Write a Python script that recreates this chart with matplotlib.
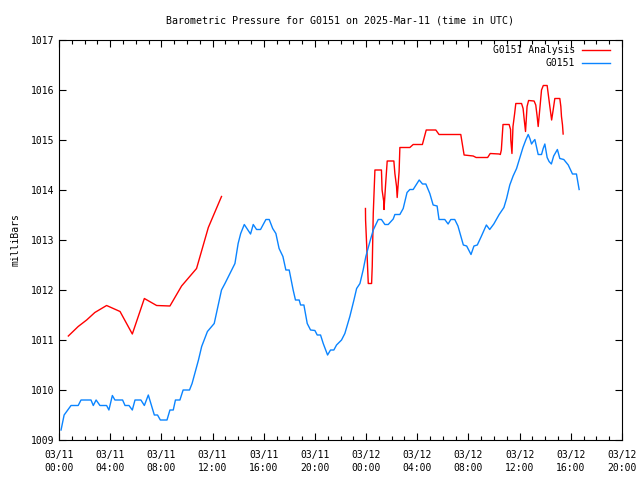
import matplotlib
matplotlib.use('Agg')
import matplotlib.pyplot as plt
from matplotlib.ticker import MultipleLocator

# hours since 2025-03-11 00:00 UTC
analysis_hours = [0.73, 1.5, 2.16, 2.8, 3.72, 4.77, 5.73, 6.67, 7.63, 8.67, 9.58,
                  10.75, 11.67, 12.7]
analysis_mb = [1011.08, 1011.27, 1011.4, 1011.55, 1011.69, 1011.57, 1011.12, 1011.83,
               1011.69, 1011.68, 1012.08, 1012.43, 1013.25, 1013.87]

analysis2_hours = [23.95, 23.96, 24.05, 24.17, 24.43, 24.48, 24.56, 24.69, 25.2, 25.25,
                   25.38, 25.4, 25.53, 25.65, 26.17, 26.25, 26.38, 26.43, 26.58, 26.64,
                   27.42, 27.68, 28.4, 28.7, 29.45, 29.7, 31.4, 31.66, 32.37, 32.6,
                   33.5, 33.7, 34.4, 34.49, 34.57, 34.7, 35.18, 35.29, 35.31, 35.4,
                   35.48, 35.61, 35.7, 36.15, 36.27, 36.35, 36.46, 36.58, 36.7, 37.13,
                   37.26, 37.37, 37.45, 37.58, 37.71, 37.85, 38.15, 38.28, 38.36, 38.5,
                   38.62, 38.75, 39.14, 39.22, 39.27, 39.35, 39.4]
analysis2_mb = [1013.63, 1013.4, 1012.87, 1012.13, 1012.13, 1012.47, 1013.53, 1014.4,
                1014.4, 1014.0, 1013.77, 1013.61, 1014.13, 1014.58, 1014.58, 1014.33,
                1014.07, 1013.85, 1014.37, 1014.85, 1014.85, 1014.91, 1014.91, 1015.2,
                1015.2, 1015.11, 1015.11, 1014.7, 1014.68, 1014.65, 1014.65, 1014.73,
                1014.72, 1014.71, 1014.8, 1015.31, 1015.31, 1015.21, 1015.0, 1014.73,
                1015.27, 1015.53, 1015.73, 1015.73, 1015.63, 1015.43, 1015.17, 1015.67,
                1015.79, 1015.78, 1015.7, 1015.47, 1015.27, 1015.63, 1016.0, 1016.09,
                1016.09, 1015.83, 1015.67, 1015.4, 1015.6, 1015.83, 1015.83, 1015.67,
                1015.47, 1015.3, 1015.12]

obs_hours = [0.16, 0.4, 0.94, 1.5, 1.72, 2.5, 2.68, 2.9, 3.2, 3.72, 3.9, 4.17, 4.37,
             4.97, 5.16, 5.47, 5.73, 5.94, 6.4, 6.67, 6.98, 7.24, 7.45, 7.7, 7.92, 8.44,
             8.67, 8.93, 9.1, 9.45, 9.7, 10.2, 10.4, 10.9, 11.15, 11.6, 12.13, 12.7,
             12.97, 13.36, 13.75, 14.0, 14.2, 14.48, 14.97, 15.18, 15.44, 15.75, 16.17,
             16.43, 16.7, 16.95, 17.2, 17.5, 17.73, 17.99, 18.3, 18.48, 18.77, 18.88,
             19.14, 19.4, 19.66, 20.0, 20.18, 20.44, 20.65, 20.99, 21.22, 21.48, 21.69,
             22.08, 22.34, 22.73, 23.05, 23.26, 23.52, 23.77, 23.98, 24.3, 24.56, 24.95,
             25.2, 25.47, 25.73, 26.12, 26.25, 26.64, 26.9, 27.2, 27.42, 27.68, 28.15,
             28.41, 28.67, 28.98, 29.24, 29.55, 29.7, 30.15, 30.41, 30.62, 30.93, 31.18,
             31.6, 31.86, 32.2, 32.43, 32.69, 33.0, 33.4, 33.66, 33.98, 34.4, 34.77,
             34.98, 35.23, 35.49, 35.76, 36.0, 36.26, 36.48, 36.67, 36.8, 36.93, 37.06,
             37.19, 37.45, 37.71, 37.84, 37.97, 38.15, 38.3, 38.48, 38.66, 38.95, 39.14,
             39.45, 39.8, 40.13, 40.44, 40.57, 40.65]
obs_mb = [1009.2, 1009.5, 1009.69, 1009.69, 1009.8, 1009.8, 1009.69, 1009.8, 1009.69,
          1009.69, 1009.6, 1009.89, 1009.8, 1009.8, 1009.69, 1009.69, 1009.6, 1009.8,
          1009.8, 1009.69, 1009.9, 1009.68, 1009.5, 1009.5, 1009.4, 1009.4, 1009.6,
          1009.6, 1009.8, 1009.8, 1010.0, 1010.0, 1010.13, 1010.6, 1010.87, 1011.17,
          1011.33, 1012.0, 1012.13, 1012.33, 1012.53, 1012.93, 1013.13, 1013.31,
          1013.12, 1013.31, 1013.21, 1013.21, 1013.41, 1013.41, 1013.23, 1013.13,
          1012.83, 1012.67, 1012.4, 1012.4, 1012.0, 1011.8, 1011.8, 1011.7, 1011.7,
          1011.33, 1011.2, 1011.19, 1011.1, 1011.1, 1010.93, 1010.7, 1010.8, 1010.8,
          1010.9, 1011.0, 1011.13, 1011.47, 1011.8, 1012.03, 1012.13, 1012.4, 1012.67,
          1012.97, 1013.2, 1013.41, 1013.41, 1013.31, 1013.31, 1013.42, 1013.51,
          1013.51, 1013.63, 1013.95, 1014.01, 1014.01, 1014.2, 1014.12, 1014.12,
          1013.93, 1013.7, 1013.68, 1013.41, 1013.41, 1013.32, 1013.41, 1013.41,
          1013.28, 1012.9, 1012.88, 1012.71, 1012.88, 1012.9, 1013.07, 1013.3, 1013.21,
          1013.32, 1013.51, 1013.65, 1013.83, 1014.1, 1014.28, 1014.43, 1014.63,
          1014.85, 1015.0, 1015.11, 1015.03, 1014.92, 1014.97, 1015.01, 1014.71,
          1014.71, 1014.83, 1014.92, 1014.65, 1014.57, 1014.52, 1014.68, 1014.81,
          1014.63, 1014.61, 1014.5, 1014.32, 1014.32, 1014.13, 1014.01]

tick_hours = [0, 4, 8, 12, 16, 20, 24, 28, 32, 36, 40, 44]
tick_labels = ['03/11\n00:00', '03/11\n04:00', '03/11\n08:00', '03/11\n12:00',
               '03/11\n16:00', '03/11\n20:00', '03/12\n00:00', '03/12\n04:00',
               '03/12\n08:00', '03/12\n12:00', '03/12\n16:00', '03/12\n20:00']

plt.rcParams['font.family'] = 'DejaVu Sans Mono'
plt.rcParams['font.size'] = 7

fig = plt.figure(figsize=(6.4, 4.8), dpi=100)
ax = fig.add_axes([59 / 640, 40 / 480, 563 / 640, 400 / 480])

red = '#ff0000'
blue = '#0a84ff'
ax.plot(analysis_hours, analysis_mb, color=red, linewidth=1, label='G0151 Analysis')
ax.plot(analysis2_hours, analysis2_mb, color=red, linewidth=1)
ax.plot(obs_hours, obs_mb, color=blue, linewidth=1, label='G0151')

ax.set_xlim(0, 44)
ax.set_ylim(1009, 1017)
ax.set_xticks(tick_hours)
ax.set_xticklabels(tick_labels, linespacing=1.35)
ax.xaxis.set_minor_locator(MultipleLocator(1))
ax.yaxis.set_major_locator(MultipleLocator(1))
ax.tick_params(which='both', direction='in', top=True, right=True, width=0.8)
ax.tick_params(which='major', length=5)
ax.tick_params(axis='x', which='major', pad=7.5)
ax.tick_params(which='minor', length=3)
for s in ax.spines.values():
    s.set_linewidth(0.8)

ax.set_ylabel('milliBars', labelpad=7)
ax.set_title('Barometric Pressure for G0151 on 2025-Mar-11 (time in UTC)',
             fontsize=7.2, pad=12)

ax.legend(loc='upper right', bbox_to_anchor=(1, 1.016), frameon=False,
          markerfirst=False, handlelength=2.9, labelspacing=0.3,
          borderaxespad=0.8, handletextpad=0.7)

fig.savefig('out.png', dpi=100)
